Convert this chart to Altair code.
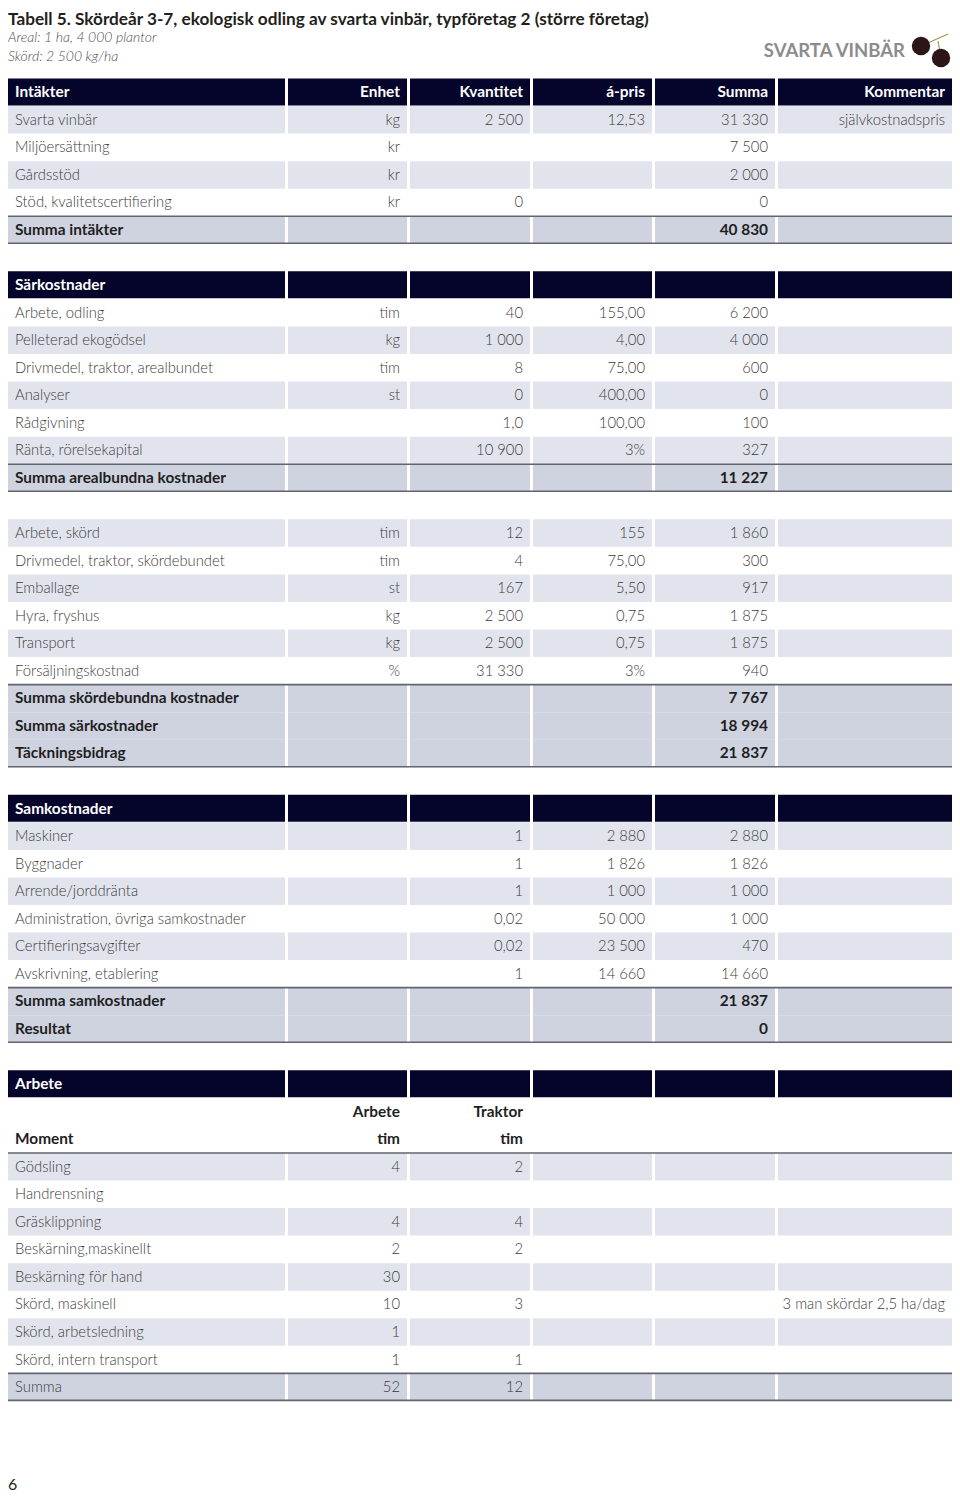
import altair as alt
import pandas as pd

# ---------------- text content ----------------
TITLE = "Tabell 5. Skördeår 3-7, ekologisk odling av svarta vinbär, typföretag 2 (större företag)"
SUBTITLES = ["Areal: 1 ha, 4 000 plantor", "Skörd: 2 500 kg/ha"]
LOGO = "SVARTA VINBÄR"
PAGE = "6"

# one entry per grid row of the table
# H=header, S=striped, P=plain, T=total (bold), R=total (regular), B=bold plain, E=empty
row_style = ["H", "S", "P", "S", "P", "T", "E",
             "H", "P", "S", "P", "S", "P", "S", "T", "E",
             "S", "P", "S", "P", "S", "P", "T", "T", "T", "E",
             "H", "S", "P", "S", "P", "S", "P", "T", "T", "E",
             "H", "B", "B", "S", "P", "S", "P", "S", "P", "S", "P", "R"]

col_post = ["Intäkter", "Svarta vinbär", "Miljöersättning", "Gårdsstöd", "Stöd, kvalitetscertifiering", "Summa intäkter", "",
            "Särkostnader", "Arbete, odling", "Pelleterad ekogödsel", "Drivmedel, traktor, arealbundet", "Analyser", "Rådgivning", "Ränta, rörelsekapital", "Summa arealbundna kostnader", "",
            "Arbete, skörd", "Drivmedel, traktor, skördebundet", "Emballage", "Hyra, fryshus", "Transport", "Försäljningskostnad", "Summa skördebundna kostnader", "Summa särkostnader", "Täckningsbidrag", "",
            "Samkostnader", "Maskiner", "Byggnader", "Arrende/jorddränta", "Administration, övriga samkostnader", "Certifieringsavgifter", "Avskrivning, etablering", "Summa samkostnader", "Resultat", "",
            "Arbete", "", "Moment", "Gödsling", "Handrensning", "Gräsklippning", "Beskärning,maskinellt", "Beskärning för hand", "Skörd, maskinell", "Skörd, arbetsledning", "Skörd, intern transport", "Summa"]

col_enhet = ["Enhet", "kg", "kr", "kr", "kr", "", "",
             "", "tim", "kg", "tim", "st", "", "", "", "",
             "tim", "tim", "st", "kg", "kg", "%", "", "", "", "",
             "", "", "", "", "", "", "", "", "", "",
             "", "Arbete", "tim", "4", "", "4", "2", "30", "10", "1", "1", "52"]

col_kvantitet = ["Kvantitet", "2 500", "", "", "0", "", "",
                 "", "40", "1 000", "8", "0", "1,0", "10 900", "", "",
                 "12", "4", "167", "2 500", "2 500", "31 330", "", "", "", "",
                 "", "1", "1", "1", "0,02", "0,02", "1", "", "", "",
                 "", "Traktor", "tim", "2", "", "4", "2", "", "3", "", "1", "12"]

col_apris = ["á-pris", "12,53", "", "", "", "", "",
             "", "155,00", "4,00", "75,00", "400,00", "100,00", "3%", "", "",
             "155", "75,00", "5,50", "0,75", "0,75", "3%", "", "", "", "",
             "", "2 880", "1 826", "1 000", "50 000", "23 500", "14 660", "", "", "",
             "", "", "", "", "", "", "", "", "", "", "", ""]

col_summa = ["Summa", "31 330", "7 500", "2 000", "0", "40 830", "",
             "", "6 200", "4 000", "600", "0", "100", "327", "11 227", "",
             "1 860", "300", "917", "1 875", "1 875", "940", "7 767", "18 994", "21 837", "",
             "", "2 880", "1 826", "1 000", "1 000", "470", "14 660", "21 837", "0", "",
             "", "", "", "", "", "", "", "", "", "", "", ""]

col_kommentar = ["Kommentar", "självkostnadspris", "", "", "", "", "",
                 "", "", "", "", "", "", "", "", "",
                 "", "", "", "", "", "", "", "", "", "",
                 "", "", "", "", "", "", "", "", "", "",
                 "", "", "", "", "", "", "", "", "3 man skördar 2,5 ha/dag", "", "", ""]

# ---------------- layout (pixels, chart coordinates = page - 8) ----------------
W, H = 944, 1487
COLS = [(0, 277), (280, 399), (402, 522), (525, 644), (647, 767), (770, 944)]
PAD_L, PAD_R = 7, 7
ROW0, PITCH = 70.5, 27.55
FILL = {"H": "#05042b", "S": "#e1e4ed", "T": "#cfd3df", "R": "#cfd3df"}
TXT_REG, TXT_BOLD, TXT_HEAD = "#3c3c3c", "#1f1f1f", "#ffffff"
LINE = "#62656e"

columns = [col_post, col_enhet, col_kvantitet, col_apris, col_summa, col_kommentar]

cells, texts, rules = [], [], []
n = len(row_style)
for i, st in enumerate(row_style):
    top = ROW0 + PITCH * i
    bot = top + PITCH
    mid = top + PITCH / 2
    if st in FILL:
        for (a, b) in COLS:
            cells.append({"x": a, "x2": b, "y": top, "y2": bot if st != "H" else top + 27, "fill": FILL[st]})
    is_tot = st in ("T", "R")
    if is_tot and (i == 0 or row_style[i - 1] not in ("T", "R")):
        rules.append({"y": top})
    if is_tot and (i == n - 1 or row_style[i + 1] not in ("T", "R")):
        rules.append({"y": bot - 0.5})
    if st == "B" and i + 1 < n and row_style[i + 1] != "B":
        rules.append({"y": bot})
    bold = st in ("H", "T", "B")
    color = TXT_HEAD if st == "H" else (TXT_BOLD if bold else TXT_REG)
    for c, col in enumerate(columns):
        t = col[i]
        if not t:
            continue
        if c == 0:
            x, align = COLS[0][0] + PAD_L, "left"
        else:
            x, align = COLS[c][1] - PAD_R, "right"
        texts.append({"x": x, "y": mid + 5, "text": t, "color": color,
                      "align": align, "bold": bold})

cells = pd.DataFrame(cells)
texts = pd.DataFrame(texts)
rules = pd.DataFrame(rules)
rules["x"] = COLS[0][0]
rules["x2"] = COLS[-1][1]

xs = alt.Scale(domain=[0, W], nice=False, zero=False)
ys = alt.Scale(domain=[0, H], nice=False, zero=False, reverse=True)
X = lambda f: alt.X(f + ":Q", scale=xs, axis=None)
Y = lambda f: alt.Y(f + ":Q", scale=ys, axis=None)

rect_layer = alt.Chart(cells).mark_rect().encode(
    x=X("x"), x2="x2:Q", y=Y("y"), y2="y2:Q",
    color=alt.Color("fill:N", scale=None))

rule_layer = alt.Chart(rules).mark_rule(color=LINE, strokeWidth=1.6).encode(
    x=X("x"), x2="x2:Q", y=Y("y"))

FONT = "Lato"
SIZE_REG, SIZE_BOLD = 14.8, 15.4


def tlayer(df, align, bold):
    sub = df[(df["align"] == align) & (df["bold"] == bold)]
    return alt.Chart(sub).mark_text(
        align=align, baseline="alphabetic", font=FONT,
        fontSize=SIZE_BOLD if bold else SIZE_REG,
        fontWeight=700 if bold else 300).encode(
        x=X("x"), y=Y("y"), text="text:N", color=alt.Color("color:N", scale=None))


text_layers = [tlayer(texts, a, b) for a in ("left", "right") for b in (False, True)]

title_df = pd.DataFrame([{"x": 0, "y": 16.5, "text": TITLE}])
sub_df = pd.DataFrame([{"x": 0, "y": 34, "text": SUBTITLES[0]},
                       {"x": 0, "y": 52.5, "text": SUBTITLES[1]}])
logo_df = pd.DataFrame([{"x": 897, "y": 49, "text": LOGO}])
page_df = pd.DataFrame([{"x": 0, "y": 1482, "text": PAGE}])

title_layer = alt.Chart(title_df).mark_text(
    align="left", baseline="alphabetic", font=FONT, fontSize=17.2, fontWeight=700,
    color="#231f20").encode(x=X("x"), y=Y("y"), text="text:N")
sub_layer = alt.Chart(sub_df).mark_text(
    align="left", baseline="alphabetic", font=FONT, fontSize=14, fontStyle="italic",
    fontWeight=300, color="#505050").encode(x=X("x"), y=Y("y"), text="text:N")
logo_layer = alt.Chart(logo_df).mark_text(
    align="right", baseline="alphabetic", font=FONT, fontSize=18.5, fontWeight=700,
    color="#8c8c8c").encode(x=X("x"), y=Y("y"), text="text:N")
page_layer = alt.Chart(page_df).mark_text(
    align="left", baseline="alphabetic", font=FONT, fontSize=16, fontWeight=400,
    color="#231f20").encode(x=X("x"), y=Y("y"), text="text:N")

# decorative berries of the logo
stem_df = pd.DataFrame([{"x": 913, "y": 38, "x2": 940, "y2": 26},
                        {"x": 930, "y": 33, "x2": 933, "y2": 50}])
berry_df = pd.DataFrame([{"x": 913, "y": 38}, {"x": 933, "y": 50}])
stem_layer = alt.Chart(stem_df).mark_rule(color="#9c9a58", strokeWidth=1.2).encode(
    x=X("x"), y=Y("y"), x2="x2:Q", y2="y2:Q")
berry_layer = alt.Chart(berry_df).mark_point(
    filled=True, size=340, color="#2b1519", opacity=1, shape="circle").encode(
    x=X("x"), y=Y("y"))

chart = alt.layer(
    rect_layer, rule_layer, *text_layers,
    title_layer, sub_layer, logo_layer, page_layer, stem_layer, berry_layer
).properties(width=W, height=H, padding=0, autosize="none",
             background="white").configure_view(stroke=None)

chart.save("out.html", embed_options={"renderer": "svg", "actions": False})
